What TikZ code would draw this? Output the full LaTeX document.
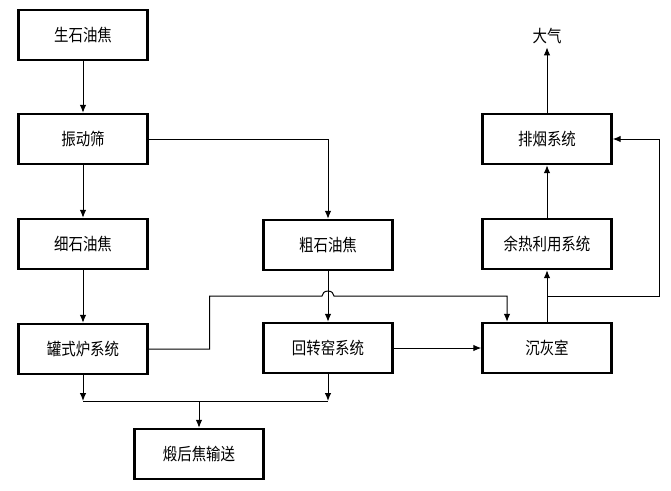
\documentclass[tikz,border=0pt]{standalone}
\usepackage{fontspec}
\newfontfamily\cjk[FakeStretch=0.85]{Noto Sans CJK SC}
\usepackage{tikz}
\usetikzlibrary{arrows.meta,calc}
\tikzset{
  box/.style={draw,line width=2.4pt,minimum width=129pt,minimum height=50pt,inner sep=0pt,font=\cjk\fontsize{17}{19}\selectfont},
  arr/.style={-{Latex[length=8pt,width=6.5pt]},line width=1pt},
  ln/.style={line width=1pt}
}
\begin{document}
\begin{tikzpicture}[x=1pt,y=-1pt]
\useasboundingbox (0,0) rectangle (671,490);
\node[box] at (83,35) (raw) {生石油焦};
\node[box] at (83,139) (screen) {振动筛};
\node[box] at (83,244) (fine) {细石油焦};
\node[box] at (83,349) (pot) {罐式炉系统};
\node[box] at (328,245) (coarse) {粗石油焦};
\node[box] at (328,348) (kiln) {回转窑系统};
\node[box] at (547,348) (ash) {沉灰室};
\node[box] at (547,244) (heat) {余热利用系统};
\node[box] at (547,139) (flue) {排烟系统};
\node[font=\cjk\fontsize{17}{19}\selectfont] at (547,36) (air) {大气};
\node[box] at (199,454) (out) {煅后焦输送};
\coordinate (j) at (199,401);
\coordinate (b) at (547,296);
\draw[arr] (raw) -- (screen);
\draw[arr] (screen) -- (fine);
\draw[arr] (screen.east) -| (coarse.north);
\draw[arr] (fine) -- (pot);
\draw[arr] (coarse) -- (kiln);
\draw[arr] (kiln) -- (ash);
\draw[arr] (ash) -- (heat);
\draw[arr] (heat) -- (flue);
\draw[arr] (flue) -- (air);
\draw[arr] (b) -- ++(112,0) |- (flue.east);
\draw[arr] (pot.east) -- ++(61,0) |- (322,296)
  arc[start angle=180,end angle=360,x radius=6,y radius=5]
  -| ([xshift=-40pt]ash.north);
\draw[arr] (pot.south) -- (pot.south |- j);
\draw[arr] (kiln.south) -- (kiln.south |- j);
\draw[ln] (pot.south |- j) -- (kiln.south |- j);
\draw[arr] (j) -- (out);
\end{tikzpicture}
\end{document}
